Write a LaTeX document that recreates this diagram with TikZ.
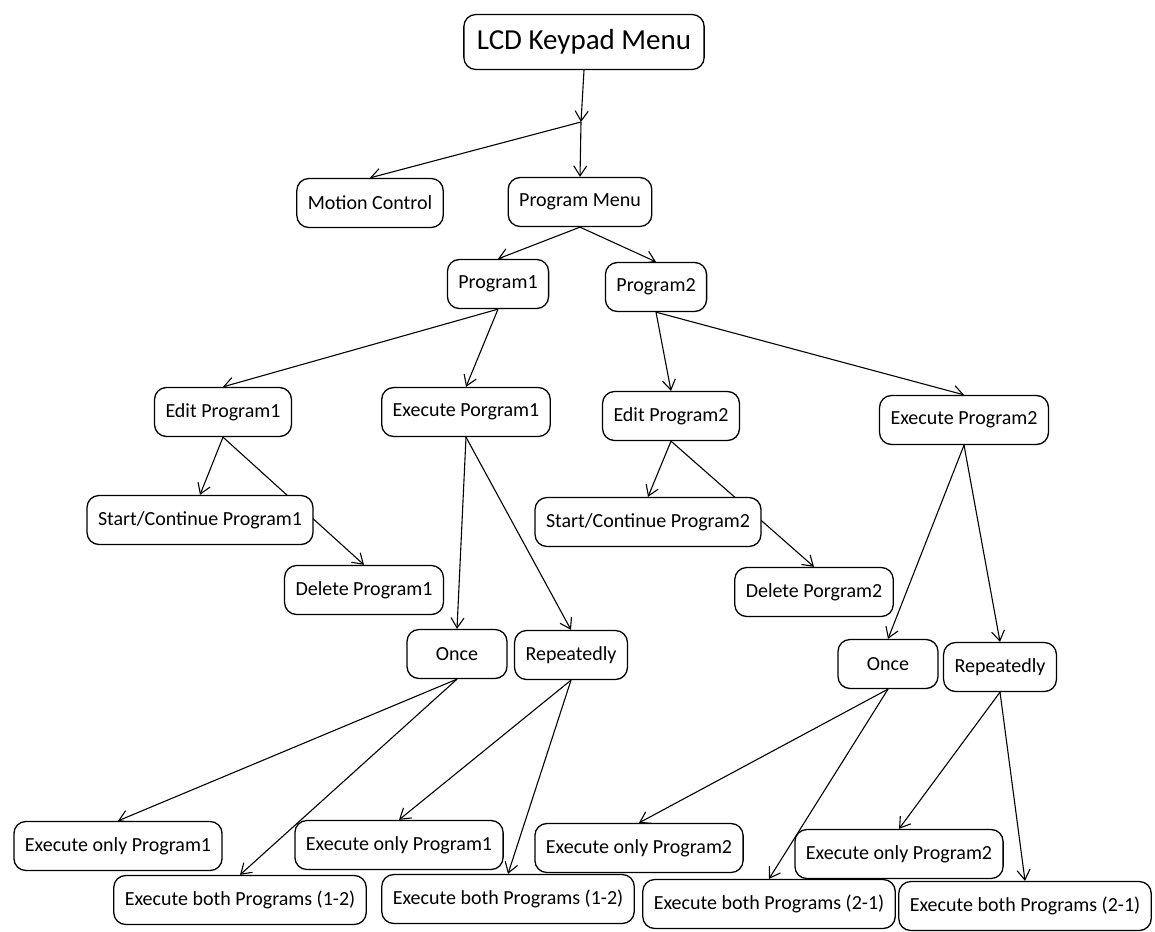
\documentclass[tikz,border=0pt]{standalone}
\usepackage{fontspec}
\setmainfont{Carlito}
\usetikzlibrary{arrows.meta,backgrounds}

\begin{document}
\begin{tikzpicture}[
  x=1pt,y=-1pt,
  every node/.style={font=\fontsize{20}{24}\selectfont},
  menubox/.style={draw,line width=1.3pt,rounded corners=12pt,fill=white,
    inner xsep=11pt,minimum height=49pt},
  titlebox/.style={menubox,font=\fontsize{29}{34}\selectfont,inner xsep=13pt,minimum height=55pt},
  link/.style={-{Straight Barb[length=10pt,width=13pt,line width=1.1pt]},line width=1.1pt}
]
  \useasboundingbox (0,0) rectangle (1155,931);

  % Top level
  \node[titlebox] (lcd) at (584,42) {LCD Keypad Menu};
  \coordinate (split) at (581,122);
  \node[menubox] (motion)   at (370,203) {Motion Control};
  \node[menubox] (progmenu) at (580,202) {Program Menu};

  % Program level
  \node[menubox,minimum width=100pt] (prog1) at (498,284) {Program1};
  \node[menubox,minimum width=100pt] (prog2) at (656,287) {Program2};

  \node[menubox] (edit1) at (223,412) {Edit Program1};
  \node[menubox] (exec1) at (466,412) {Execute Porgram1};
  \node[menubox] (edit2) at (671,416) {Edit Program2};
  \node[menubox] (exec2) at (964,420) {Execute Program2};

  % Edit branches
  \node[menubox] (start1) at (200,520) {Start/Continue Program1};
  \node[menubox] (del1)   at (364,590) {Delete Program1};
  \node[menubox] (start2) at (648,522) {Start/Continue Program2};
  \node[menubox] (del2)   at (814,592) {Delete Porgram2};

  % Execute branches
  \node[menubox,minimum width=100pt] (once1) at (457,654) {Once};
  \node[menubox] (rep1)  at (571,655) {Repeatedly};
  \node[menubox,minimum width=100pt] (once2) at (888,664) {Once};
  \node[menubox] (rep2)  at (1000,667) {Repeatedly};

  % Bottom row
  \node[menubox] (only1a) at (118,846) {Execute only Program1};
  \node[menubox] (both1a) at (240,900) {Execute both Programs (1-2)};
  \node[menubox] (only1b) at (399,845) {Execute only Program1};
  \node[menubox] (both1b) at (508,899) {Execute both Programs (1-2)};
  \node[menubox] (only2a) at (639,848) {Execute only Program2};
  \node[menubox] (both2a) at (769,904) {Execute both Programs (2-1)};
  \node[menubox] (only2b) at (899,854) {Execute only Program2};
  \node[menubox] (both2b) at (1025,906) {Execute both Programs (2-1)};

  % Connectors behind the boxes
  \begin{scope}[on background layer]
    \draw[link] (lcd.south) -- (split);
    \draw[link] (split) -- (progmenu.north);
    \draw[link] (split) -- (motion.north);

    \draw[link] (progmenu.south) -- (prog1.north);
    \draw[link] (progmenu.south) -- (prog2.north);

    \draw[link] (prog1.south) -- (edit1.north);
    \draw[link] (prog1.south) -- (exec1.north);
    \draw[link] (prog2.south) -- (edit2.north);
    \draw[link] (prog2.south) -- (exec2.north);

    \draw[link] (edit1.south) -- (start1.north);
    \draw[link] (edit1.south) -- (del1.north);
    \draw[link] (edit2.south) -- (start2.north);
    \draw[link] (edit2.south) -- (del2.north);

    \draw[link] (exec1.south) -- (once1.north);
    \draw[link] (exec1.south) -- (rep1.north);
    \draw[link] (exec2.south) -- (once2.north);
    \draw[link] (exec2.south) -- (rep2.north);

    \draw[link] (once1.south) -- (only1a.north);
    \draw[link] (once1.south) -- (both1a.north);
    \draw[link] (rep1.south)  -- (only1b.north);
    \draw[link] (rep1.south)  -- (both1b.north);
    \draw[link] (once2.south) -- (only2a.north);
    \draw[link] (once2.south) -- (both2a.north);
    \draw[link] (rep2.south)  -- (only2b.north);
    \draw[link] (rep2.south)  -- (both2b.north);
  \end{scope}
\end{tikzpicture}
\end{document}
